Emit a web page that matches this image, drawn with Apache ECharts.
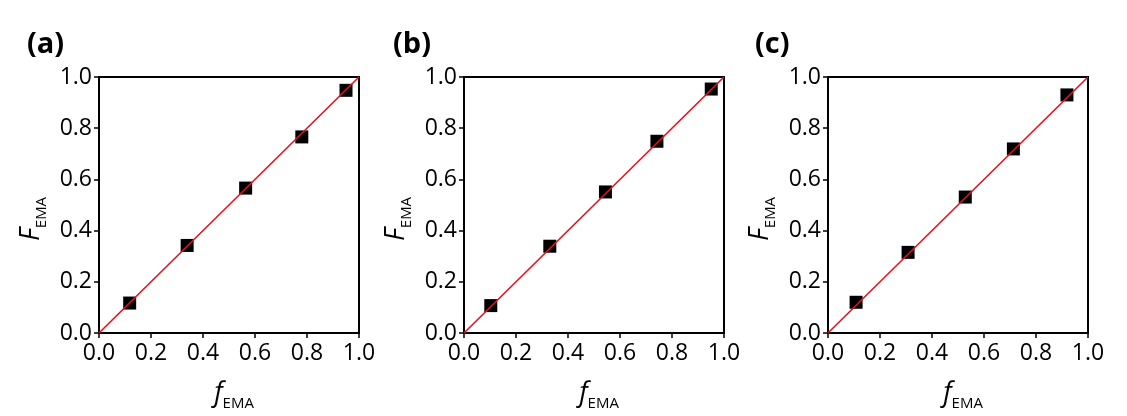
<!DOCTYPE html>
<html>
<head>
<meta charset="utf-8">
<script src="https://cdn.jsdelivr.net/npm/echarts@6/dist/echarts.min.js"></script>
<style>
html,body{margin:0;padding:0;background:#fff;}
#chart{width:1127px;height:416px;}
</style>
</head>
<body>
<div id="chart"></div>
<script>
// Data
const panelLabels = ['(a)', '(b)', '(c)'];
const fA_x = [0.118, 0.339, 0.564, 0.780, 0.950];
const fA_y = [0.117, 0.342, 0.566, 0.766, 0.948];
const fB_x = [0.103, 0.330, 0.544, 0.742, 0.951];
const fB_y = [0.107, 0.339, 0.551, 0.749, 0.953];
const fC_x = [0.108, 0.308, 0.528, 0.713, 0.919];
const fC_y = [0.120, 0.315, 0.531, 0.719, 0.930];
const refLine = [[0, 0], [1, 1]];
const tickLabels = ['0.0', '0.2', '0.4', '0.6', '0.8', '1.0'];

const panels = [[fA_x, fA_y], [fB_x, fB_y], [fC_x, fC_y]];
const FONT = '"Open Sans", "Noto Sans", sans-serif';
const gridLefts = [99, 464, 828];
const labelLefts = [27, 393, 755];

const chart = echarts.init(document.getElementById('chart'), null, {renderer: 'canvas'});

const grids = [], xAxes = [], yAxes = [], series = [], graphics = [];

function fmt(v) {
  const i = Math.round(v * 5);
  return tickLabels[i] !== undefined ? tickLabels[i] : '';
}

function nameRich(pad) {
  return {
    padding: pad,
    rich: {
      i: {fontFamily: FONT, fontStyle: 'italic', fontSize: 27, color: '#000', lineHeight: 36, verticalAlign: 'middle'},
      s: {fontFamily: FONT, fontSize: 15, color: '#000', lineHeight: 15, verticalAlign: 'bottom'}
    }
  };
}

panels.forEach((p, k) => {
  grids.push({
    left: gridLefts[k], top: 77, width: 260, height: 256,
    containLabel: false, outerBoundsMode: 'none',
    show: true, borderColor: '#000', borderWidth: 2, backgroundColor: 'transparent'
  });
  const common = {
    gridIndex: k, type: 'value', min: 0, max: 1, interval: 0.2,
    axisLine: {show: true, lineStyle: {color: '#000', width: 2}},
    axisTick: {show: true, inside: false, length: 5, lineStyle: {color: '#000', width: 1.5}},
    splitLine: {show: false},
    nameLocation: 'middle'
  };
  xAxes.push(Object.assign({}, common, {
    position: 'bottom',
    axisLabel: {fontFamily: FONT, fontSize: 23, color: '#000', margin: 9, formatter: fmt},
    name: '{i|f}{s|EMA}', nameGap: 42, nameTextStyle: nameRich([0, 0, 0, 10])
  }));
  yAxes.push(Object.assign({}, common, {
    position: 'left',
    axisLabel: {fontFamily: FONT, fontSize: 23, color: '#000', margin: 7, formatter: fmt},
    name: '{i|F}{s|EMA}', nameGap: 50, nameRotate: 90, nameTextStyle: nameRich([0, 28, 0, 0])
  }));
  series.push({
    type: 'scatter', xAxisIndex: k, yAxisIndex: k,
    symbol: 'rect', symbolSize: 13,
    itemStyle: {color: '#000', opacity: 1},
    data: p[0].map((x, i) => [x, p[1][i]]),
    z: 2, silent: true
  });
  series.push({
    type: 'line', xAxisIndex: k, yAxisIndex: k,
    data: refLine, showSymbol: false, symbol: 'none',
    lineStyle: {color: '#e8101a', width: 1.6},
    z: 3, silent: true, animation: false
  });
  graphics.push({
    type: 'text', left: labelLefts[k], top: 30,
    style: {text: panelLabels[k], font: 'bold 29px ' + FONT, fill: '#000'}
  });
});

chart.setOption({
  animation: false,
  backgroundColor: '#fff',
  grid: grids,
  xAxis: xAxes,
  yAxis: yAxes,
  series: series,
  graphic: graphics
});
</script>
</body>
</html>
